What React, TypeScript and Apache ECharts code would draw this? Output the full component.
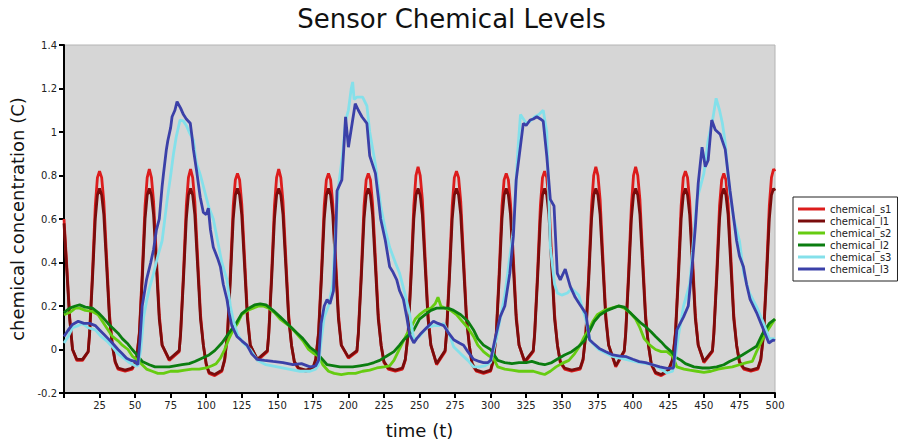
import React, { useEffect, useRef } from "react";
import * as echarts from "echarts";

const seriesNames = ["chemical_s1", "chemical_l1", "chemical_s2", "chemical_l2", "chemical_s3", "chemical_l3"];
const seriesColors = ["#dc1c1c", "#7a0c0c", "#66cc11", "#0b7d10", "#84e0ea", "#3b40a8"];
const xTicks = { min: 0, max: 500, interval: 25 };
const yTicks = { min: -0.2, max: 1.4, interval: 0.2 };

const chemS1: number[][] = [
  [0, 0.6], [2, 0.38], [4, 0.15], [6, 0.0], [9, -0.05], [13, -0.05], [17, -0.01],
  [18, 0.08], [20, 0.35], [22, 0.66], [23.5, 0.79], [25, 0.82], [26.5, 0.79], [28, 0.68], [30, 0.42], [32, 0.16], [34, 0.02],
  [36, -0.06], [38, -0.09], [43, -0.1], [48, -0.09], [51, -0.05],
  [53, 0.08], [55, 0.35], [57, 0.66], [58.5, 0.79], [60, 0.83], [61.5, 0.79], [63, 0.68], [65, 0.42], [67, 0.16], [69, 0.02],
  [74, -0.05], [81, -0.01],
  [82, 0.08], [84, 0.35], [86, 0.66], [87.5, 0.79], [89, 0.83], [90.5, 0.79], [92, 0.68], [94, 0.42], [96, 0.16], [98, 0.02],
  [100, -0.07], [102, -0.11], [106, -0.12], [111, -0.1], [113, -0.05],
  [115, 0.08], [117, 0.35], [119, 0.66], [120.5, 0.78], [122, 0.81], [123.5, 0.78], [125, 0.67], [127, 0.42], [129, 0.16], [131, 0.02],
  [136, -0.05], [143, -0.01],
  [144, 0.08], [146, 0.35], [148, 0.66], [149.5, 0.79], [151, 0.83], [152.5, 0.79], [154, 0.68], [156, 0.42], [158, 0.16], [160, 0.02],
  [162, -0.06], [165, -0.09], [170, -0.1], [175, -0.09], [177, -0.05],
  [179, 0.08], [181, 0.35], [183, 0.66], [184.5, 0.78], [186, 0.81], [187.5, 0.78], [189, 0.67], [191, 0.42], [193, 0.16], [195, 0.02],
  [200, -0.04], [206, -0.01],
  [207, 0.08], [209, 0.35], [211, 0.66], [212.5, 0.78], [214, 0.81], [215.5, 0.78], [217, 0.67], [219, 0.42], [221, 0.16], [223, 0.02],
  [225, -0.06], [228, -0.09], [233, -0.1], [238, -0.09], [240, -0.05],
  [242, 0.08], [244, 0.35], [246, 0.66], [247.5, 0.8], [249, 0.84], [250.5, 0.8], [252, 0.69], [254, 0.42], [256, 0.16], [258, 0.02],
  [262, -0.07], [268, -0.01],
  [269, 0.08], [271, 0.35], [273, 0.66], [274.5, 0.79], [276, 0.82], [277.5, 0.79], [279, 0.68], [281, 0.42], [283, 0.16], [285, 0.02],
  [287, -0.07], [290, -0.1], [295, -0.11], [300, -0.1], [302, -0.05],
  [304, 0.08], [306, 0.35], [308, 0.66], [309.5, 0.78], [311, 0.81], [312.5, 0.78], [314, 0.67], [316, 0.42], [318, 0.16], [320, 0.02],
  [324, -0.06], [330, -0.01],
  [331, 0.08], [333, 0.35], [335, 0.66], [336.5, 0.79], [338, 0.82], [339.5, 0.79], [341, 0.68], [343, 0.42], [345, 0.16], [347, 0.02],
  [349, -0.06], [352, -0.09], [357, -0.1], [363, -0.09], [365, -0.05],
  [367, 0.08], [369, 0.35], [371, 0.66], [372.5, 0.8], [374, 0.84], [375.5, 0.8], [377, 0.69], [379, 0.42], [381, 0.16], [383, 0.02],
  [388, -0.08], [394, -0.01],
  [395, 0.08], [397, 0.35], [399, 0.66], [400.5, 0.8], [402, 0.84], [403.5, 0.8], [405, 0.69], [407, 0.42], [409, 0.16], [411, 0.02],
  [413, -0.07], [416, -0.11], [420, -0.12], [425, -0.1], [428, -0.05],
  [430, 0.08], [432, 0.35], [434, 0.66], [435.5, 0.79], [437, 0.82], [438.5, 0.79], [440, 0.68], [442, 0.42], [444, 0.16], [446, 0.02],
  [450, -0.06], [456, -0.01],
  [457, 0.08], [459, 0.35], [461, 0.66], [462.5, 0.78], [464, 0.81], [465.5, 0.78], [467, 0.67], [469, 0.42], [471, 0.16], [473, 0.02],
  [475, -0.06], [478, -0.09], [483, -0.1], [488, -0.09], [490, -0.05],
  [492, 0.08], [494, 0.35], [496, 0.66], [497.5, 0.79], [499, 0.83], [500, 0.82],
];

const chemL1: number[][] = [
  [0, 0.58], [2, 0.36], [4, 0.14], [6, 0.0], [9, -0.045], [13, -0.045], [17, -0.01],
  [18, 0.07], [20, 0.32], [22, 0.6], [23.5, 0.71], [25, 0.74], [26.5, 0.71], [28, 0.62], [30, 0.38], [32, 0.14], [34, 0.02],
  [36, -0.055], [38, -0.085], [43, -0.095], [48, -0.085], [51, -0.045],
  [53, 0.07], [55, 0.32], [57, 0.6], [58.5, 0.71], [60, 0.74], [61.5, 0.71], [63, 0.62], [65, 0.38], [67, 0.14], [69, 0.02],
  [74, -0.045], [81, -0.005],
  [82, 0.07], [84, 0.32], [86, 0.6], [87.5, 0.71], [89, 0.74], [90.5, 0.71], [92, 0.62], [94, 0.38], [96, 0.14], [98, 0.02],
  [100, -0.065], [102, -0.105], [106, -0.115], [111, -0.095], [113, -0.045],
  [115, 0.07], [117, 0.32], [119, 0.6], [120.5, 0.71], [122, 0.74], [123.5, 0.71], [125, 0.62], [127, 0.38], [129, 0.14], [131, 0.02],
  [136, -0.045], [143, -0.005],
  [144, 0.07], [146, 0.32], [148, 0.6], [149.5, 0.71], [151, 0.74], [152.5, 0.71], [154, 0.62], [156, 0.38], [158, 0.14], [160, 0.02],
  [162, -0.055], [165, -0.085], [170, -0.095], [175, -0.085], [177, -0.045],
  [179, 0.07], [181, 0.32], [183, 0.6], [184.5, 0.71], [186, 0.74], [187.5, 0.71], [189, 0.62], [191, 0.38], [193, 0.14], [195, 0.02],
  [200, -0.035], [206, -0.005],
  [207, 0.07], [209, 0.32], [211, 0.6], [212.5, 0.71], [214, 0.74], [215.5, 0.71], [217, 0.62], [219, 0.38], [221, 0.14], [223, 0.02],
  [225, -0.055], [228, -0.085], [233, -0.095], [238, -0.085], [240, -0.045],
  [242, 0.07], [244, 0.32], [246, 0.6], [247.5, 0.71], [249, 0.74], [250.5, 0.71], [252, 0.62], [254, 0.38], [256, 0.14], [258, 0.02],
  [262, -0.065], [268, -0.005],
  [269, 0.07], [271, 0.32], [273, 0.6], [274.5, 0.71], [276, 0.74], [277.5, 0.71], [279, 0.62], [281, 0.38], [283, 0.14], [285, 0.02],
  [287, -0.065], [290, -0.095], [295, -0.105], [300, -0.095], [302, -0.045],
  [304, 0.07], [306, 0.32], [308, 0.6], [309.5, 0.71], [311, 0.74], [312.5, 0.71], [314, 0.62], [316, 0.38], [318, 0.14], [320, 0.02],
  [324, -0.055], [330, -0.005],
  [331, 0.07], [333, 0.32], [335, 0.6], [336.5, 0.71], [338, 0.74], [339.5, 0.71], [341, 0.62], [343, 0.38], [345, 0.14], [347, 0.02],
  [349, -0.055], [352, -0.085], [357, -0.095], [363, -0.085], [365, -0.045],
  [367, 0.07], [369, 0.32], [371, 0.6], [372.5, 0.71], [374, 0.74], [375.5, 0.71], [377, 0.62], [379, 0.38], [381, 0.14], [383, 0.02],
  [388, -0.075], [394, -0.005],
  [395, 0.07], [397, 0.32], [399, 0.6], [400.5, 0.71], [402, 0.74], [403.5, 0.71], [405, 0.62], [407, 0.38], [409, 0.14], [411, 0.02],
  [413, -0.065], [416, -0.105], [420, -0.115], [425, -0.095], [428, -0.045],
  [430, 0.07], [432, 0.32], [434, 0.6], [435.5, 0.71], [437, 0.74], [438.5, 0.71], [440, 0.62], [442, 0.38], [444, 0.14], [446, 0.02],
  [450, -0.055], [456, -0.005],
  [457, 0.07], [459, 0.32], [461, 0.6], [462.5, 0.71], [464, 0.74], [465.5, 0.71], [467, 0.62], [469, 0.38], [471, 0.14], [473, 0.02],
  [475, -0.055], [478, -0.085], [483, -0.095], [488, -0.085], [490, -0.045],
  [492, 0.07], [494, 0.32], [496, 0.6], [497.5, 0.71], [499, 0.74], [500, 0.73],
];

const chemS2: number[][] = [
  [0, 0.16], [4, 0.17], [8, 0.19], [11, 0.19], [15, 0.18], [20, 0.175], [24, 0.16], [28, 0.12], [31, 0.09], [34, 0.06],
  [38, 0.04], [41, 0.02], [45, 0.0], [48, -0.03], [52, -0.05], [55, -0.07], [58, -0.09], [62, -0.1], [66, -0.11], [70, -0.11],
  [75, -0.1], [80, -0.1], [85, -0.095], [90, -0.09], [95, -0.09], [100, -0.085], [104, -0.075], [107, -0.065], [110, -0.04],
  [113, 0.0], [116, 0.05], [119, 0.09], [122, 0.12], [125, 0.16], [129, 0.18], [133, 0.19], [137, 0.2], [140, 0.2], [144, 0.19],
  [148, 0.17], [152, 0.14], [156, 0.12], [160, 0.1], [164, 0.07], [168, 0.04], [172, 0.0], [176, -0.02], [179, -0.03],
  [182, -0.07], [186, -0.1], [190, -0.11], [195, -0.115], [200, -0.11], [205, -0.11], [210, -0.1], [215, -0.095], [220, -0.085],
  [225, -0.08], [229, -0.075], [232, -0.05], [235, -0.01], [238, 0.03], [241, 0.07], [244, 0.1], [247, 0.14], [250, 0.16],
  [254, 0.18], [258, 0.19], [261, 0.21], [263, 0.24], [265, 0.2], [268, 0.19], [272, 0.18], [276, 0.16], [280, 0.13],
  [284, 0.1], [288, 0.06], [291, 0.02], [295, -0.01], [299, -0.03], [302, -0.04], [305, -0.08], [310, -0.09], [315, -0.095],
  [320, -0.1], [325, -0.1], [330, -0.1], [335, -0.11], [338, -0.115], [342, -0.1], [346, -0.08], [350, -0.065], [355, -0.05],
  [359, -0.02], [363, 0.02], [366, 0.06], [369, 0.09], [372, 0.13], [375, 0.16], [380, 0.18], [385, 0.19], [390, 0.2],
  [394, 0.19], [398, 0.17], [402, 0.14], [405, 0.1], [408, 0.05], [412, 0.02], [416, 0.0], [420, -0.01], [424, -0.01],
  [428, -0.03], [431, -0.08], [436, -0.09], [440, -0.095], [445, -0.1], [450, -0.105], [455, -0.1], [460, -0.09],
  [465, -0.085], [470, -0.08], [475, -0.07], [480, -0.06], [484, -0.055], [487, -0.01], [490, 0.03], [493, 0.07],
  [496, 0.1], [500, 0.14],
];

const chemL2: number[][] = [
  [0, 0.17], [4, 0.19], [8, 0.2], [11, 0.205], [15, 0.195], [20, 0.19], [24, 0.17], [27, 0.15], [31, 0.12], [34, 0.1],
  [38, 0.075], [41, 0.05], [45, 0.025], [48, 0.0], [52, -0.03], [55, -0.055], [60, -0.07], [64, -0.08], [70, -0.08],
  [74, -0.08], [78, -0.075], [83, -0.07], [88, -0.065], [92, -0.055], [97, -0.04], [102, -0.025], [106, -0.005], [111, 0.03],
  [116, 0.075], [121, 0.12], [125, 0.165], [130, 0.19], [134, 0.205], [138, 0.21], [142, 0.205], [147, 0.18], [152, 0.15],
  [156, 0.125], [160, 0.1], [164, 0.075], [168, 0.05], [173, 0.01], [177, -0.01], [181, -0.04], [185, -0.07], [190, -0.075],
  [194, -0.08], [199, -0.08], [203, -0.08], [208, -0.075], [213, -0.07], [218, -0.06], [222, -0.05], [227, -0.03],
  [232, -0.01], [236, 0.02], [239, 0.045], [243, 0.07], [246, 0.09], [250, 0.14], [254, 0.16], [258, 0.18], [262, 0.19],
  [266, 0.19], [270, 0.19], [274, 0.18], [279, 0.16], [284, 0.13], [288, 0.09], [291, 0.05], [295, 0.02], [300, 0.0],
  [303, -0.03], [305, -0.05], [310, -0.06], [315, -0.065], [320, -0.06], [325, -0.06], [329, -0.055], [334, -0.065],
  [338, -0.07], [343, -0.06], [348, -0.04], [352, -0.025], [357, -0.01], [362, 0.015], [366, 0.04], [370, 0.09], [373, 0.13],
  [377, 0.16], [382, 0.18], [386, 0.19], [390, 0.2], [394, 0.195], [398, 0.17], [402, 0.145], [406, 0.12], [409, 0.105],
  [413, 0.08], [416, 0.06], [420, 0.035], [423, 0.013], [427, -0.01], [430, -0.035], [434, -0.05], [437, -0.065],
  [443, -0.08], [449, -0.085], [454, -0.085], [459, -0.08], [464, -0.07], [468, -0.055], [473, -0.04], [477, -0.025],
  [482, -0.005], [487, 0.015], [491, 0.07], [496, 0.12], [500, 0.14],
];

const chemS3: number[][] = [
  [0, 0.03], [3, 0.06], [6, 0.1], [10, 0.11], [13, 0.12], [17, 0.1], [22, 0.09], [26, 0.06], [30, 0.04], [34, 0.013],
  [38, -0.02], [42, -0.04], [46, -0.06], [50, -0.075], [52, -0.075], [54, 0.0], [56, 0.15], [58, 0.22], [60, 0.28],
  [63, 0.35], [66, 0.43], [69, 0.5], [72.6, 0.69], [75, 0.8], [77, 0.9], [79, 0.98], [81.6, 1.055], [84, 1.05], [86, 1.03],
  [88, 1.0], [91, 0.963], [93, 0.86], [96, 0.8], [100, 0.7], [102, 0.65], [105, 0.6], [108, 0.5], [111, 0.4], [114.6, 0.32],
  [117, 0.2], [119, 0.136], [122, 0.07], [126, 0.03], [131, 0.0], [136, -0.05], [142, -0.07], [150, -0.08], [158, -0.09],
  [166, -0.1], [173, -0.1], [177, -0.09], [179, -0.07], [181, 0.05], [183, 0.15], [186, 0.2], [189, 0.3], [191, 0.55],
  [193, 0.75], [196, 0.9], [198, 1.05], [200, 1.1], [202, 1.2], [203, 1.23], [204, 1.15], [206, 1.16], [210, 1.16],
  [213, 1.12], [215, 1.0], [219, 0.85], [222.7, 0.66], [226, 0.55], [229, 0.47], [233, 0.4], [236, 0.35], [240, 0.25],
  [243, 0.165], [246, 0.044], [250, 0.06], [255, 0.1], [260, 0.11], [264, 0.11], [267, 0.12], [271, 0.07], [274, 0.013],
  [279, -0.02], [284, -0.05], [288, -0.08], [292, -0.08], [296, -0.075], [300, -0.06], [304, 0.05], [307, 0.15], [310, 0.25],
  [314, 0.45], [316, 0.55], [319, 0.9], [321, 1.08], [325, 1.04], [328, 1.05], [331, 1.07], [334, 1.08], [337, 1.1],
  [339.5, 1.0], [342, 0.47], [345, 0.3], [347, 0.26], [350, 0.25], [354, 0.26], [357, 0.28], [362, 0.25], [365, 0.18],
  [367, 0.136], [370, 0.04], [376, 0.0], [385, -0.03], [395, -0.045], [405, -0.06], [414, -0.07], [420, -0.09],
  [424, -0.108], [428, -0.1], [430, -0.03], [432, 0.06], [435.7, 0.2], [440, 0.3], [442, 0.45], [445, 0.687], [450, 0.81],
  [453, 0.963], [456, 1.05], [458.6, 1.155], [461, 1.1], [463, 1.04], [465, 0.95], [468, 0.73], [471, 0.6], [475, 0.5],
  [478, 0.35], [482, 0.26], [487, 0.197], [492, 0.12], [496, 0.05], [500, 0.05],
];

const chemL3: number[][] = [
  [0, 0.06], [3, 0.09], [6, 0.115], [10, 0.13], [14, 0.12], [18, 0.12], [22, 0.11], [25, 0.09], [28, 0.07], [31, 0.05],
  [34, 0.03], [38, 0.0], [41, -0.02], [44, -0.04], [47, -0.05], [50, -0.055], [52, -0.07], [53.5, 0.05], [55, 0.2],
  [58, 0.32], [61, 0.4], [63, 0.46], [65, 0.55], [67, 0.6], [69, 0.75], [70, 0.81], [72, 0.92], [73, 0.96], [75, 1.02],
  [76, 1.07], [78, 1.1], [79.5, 1.14], [82, 1.11], [84, 1.08], [86, 1.06], [88.8, 1.04], [90, 0.98], [91, 0.92],
  [93.5, 0.81], [95.8, 0.7], [98, 0.63], [100, 0.62], [101.5, 0.65], [103, 0.55], [105, 0.47], [108, 0.42], [110, 0.38],
  [112, 0.3], [114.6, 0.23], [116, 0.17], [118, 0.11], [121.6, 0.06], [125, 0.04], [128.7, 0.02], [132, -0.02],
  [135.7, -0.045], [141, -0.05], [147, -0.055], [154, -0.06], [161, -0.07], [167, -0.065], [173, -0.08], [177, -0.075],
  [179, -0.05], [180.8, 0.12], [183, 0.2], [185, 0.23], [187, 0.21], [189.5, 0.27], [191, 0.5], [192, 0.73], [195.4, 0.78],
  [197, 0.95], [198, 1.07], [200, 0.93], [203, 1.055], [204.8, 1.13], [207, 1.1], [209.5, 1.07], [213, 1.04], [215, 0.89],
  [219, 0.81], [221, 0.7], [222.7, 0.6], [226, 0.5], [229, 0.38], [231, 0.36], [234, 0.32], [236, 0.27], [238.7, 0.23],
  [241, 0.15], [243, 0.07], [246, 0.03], [248, 0.05], [250.5, 0.07], [255, 0.1], [259.8, 0.13], [263, 0.12], [267, 0.11],
  [270, 0.08], [274, 0.045], [278, 0.03], [281, 0.02], [284, -0.01], [288, -0.045], [292, -0.055], [295, -0.06],
  [298, -0.06], [300, -0.05], [303, 0.045], [306.7, 0.15], [310, 0.2], [313.5, 0.35], [316, 0.52], [318, 0.78],
  [320.7, 0.92], [323, 1.04], [325, 1.03], [327.8, 1.055], [330, 1.06], [332.5, 1.07], [335, 1.06], [337, 1.05],
  [339.5, 0.89], [342, 0.69], [344.6, 0.66], [346.9, 0.35], [349, 0.32], [352.5, 0.37], [356, 0.29], [359.5, 0.24],
  [362.4, 0.21], [367, 0.165], [369.6, 0.045], [372, 0.03], [376.4, 0.005], [381, -0.01], [386, -0.025], [391, -0.03],
  [395.5, -0.033], [400, -0.045], [404.5, -0.056], [409, -0.06], [414, -0.07], [419, -0.08], [424, -0.087],
  [428.6, -0.085], [431, 0.09], [435.7, 0.15], [439, 0.2], [441.7, 0.38], [444, 0.565], [446, 0.764], [448.7, 0.93],
  [451, 0.84], [453, 0.87], [455.5, 1.055], [458, 1.01], [461.4, 0.99], [465, 0.92], [468.4, 0.73], [471, 0.6], [473, 0.5],
  [475, 0.43], [477.8, 0.38], [480, 0.3], [482.5, 0.23], [487, 0.17], [492, 0.09], [495.7, 0.03], [498.8, 0.044], [500, 0.04],
];

const allData = [chemS1, chemL1, chemS2, chemL2, chemS3, chemL3];
const FONT = "DejaVu Sans";

export default function App() {
  const ref = useRef<HTMLDivElement>(null);
  useEffect(() => {
    if (!ref.current) return;
    const chart = echarts.init(ref.current, undefined, { renderer: "svg" });
    chart.setOption({
      animation: false,
      backgroundColor: "#ffffff",
      title: {
        text: "Sensor Chemical Levels",
        left: "center",
        top: 1,
        textStyle: { fontFamily: FONT, fontSize: 26, fontWeight: "normal", color: "#111" },
      },
      legend: {
        orient: "vertical",
        left: 793,
        top: 197,
        padding: [7, 6, 7, 5],
        itemGap: 2,
        itemWidth: 27,
        itemHeight: 3,
        icon: "rect",
        backgroundColor: "#ffffff",
        borderColor: "#222",
        borderWidth: 1,
        borderRadius: 0,
        textStyle: { fontFamily: FONT, fontSize: 10, color: "#222", padding: [0, 0, 0, 0] },
        data: seriesNames,
      },
      grid: {
        left: 64,
        right: 128,
        top: 45,
        bottom: 51,
        show: true,
        backgroundColor: "#d6d6d6",
        borderColor: "#b4b4b4",
        borderWidth: 1,
      },
      xAxis: {
        type: "value",
        min: xTicks.min,
        max: xTicks.max,
        interval: xTicks.interval,
        name: "time (t)",
        nameLocation: "middle",
        nameGap: 28,
        nameTextStyle: { fontFamily: FONT, fontSize: 18, color: "#111" },
        axisLine: { show: true, onZero: false, lineStyle: { color: "#000", width: 2 } },
        axisTick: { show: true, length: 5, lineStyle: { color: "#000", width: 2 } },
        axisLabel: {
          fontFamily: FONT,
          fontSize: 10,
          color: "#222",
          margin: 7,
          formatter: (v: number) => (v === 0 ? "" : String(v)),
        },
        splitLine: { show: false },
      },
      yAxis: {
        type: "value",
        min: yTicks.min,
        max: yTicks.max,
        interval: yTicks.interval,
        name: "chemical concentration (C)",
        nameLocation: "middle",
        nameGap: 37,
        nameTextStyle: { fontFamily: FONT, fontSize: 18, color: "#111" },
        axisLine: { show: true, onZero: false, lineStyle: { color: "#000", width: 2 } },
        axisTick: { show: true, length: 5, lineStyle: { color: "#000", width: 2 } },
        axisLabel: {
          fontFamily: FONT,
          fontSize: 10,
          color: "#222",
          margin: 7,
          formatter: (v: number) => String(Math.round(v * 10) / 10),
        },
        splitLine: { show: false },
      },
      series: allData.map((d, i) => ({
        name: seriesNames[i],
        type: "line",
        data: d,
        showSymbol: false,
        symbol: "none",
        lineStyle: { color: seriesColors[i], width: 2.8 },
        itemStyle: { color: seriesColors[i] },
        emphasis: { disabled: true },
      })),
    });
    return () => chart.dispose();
  }, []);
  return <div ref={ref} style={{ position: "fixed", left: 0, top: 0, width: 903, height: 444 }} />;
}
